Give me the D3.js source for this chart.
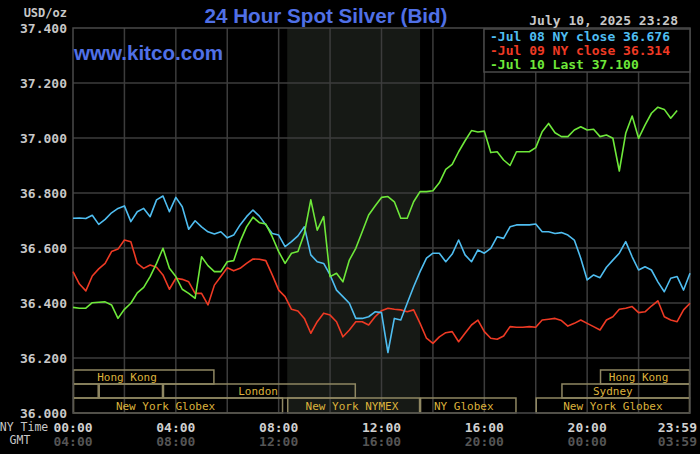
<!DOCTYPE html>
<html><head><meta charset="utf-8">
<script src="https://cdn.jsdelivr.net/npm/d3@7"></script>
<style>html,body{margin:0;padding:0;background:#000;} svg{display:block;}</style>
</head><body>
<svg id="c" width="700" height="454"></svg>
<script>
// ---- data ----
const hours = d3.range(0, 24.001, 0.25); // 15-minute sampling grid (NY time, hours)

const jul08 = [36.708,36.709,36.707,36.719,36.686,36.704,36.728,36.744,36.753,36.696,36.732,36.744,36.714,36.775,36.789,36.732,
36.784,36.750,36.668,36.699,36.677,36.659,36.651,36.659,36.637,36.647,36.684,36.714,36.738,36.716,36.684,36.653,
36.647,36.605,36.623,36.644,36.677,36.575,36.550,36.544,36.502,36.447,36.423,36.399,36.344,36.344,36.350,36.368,
36.365,36.220,36.344,36.338,36.399,36.459,36.514,36.563,36.581,36.581,36.550,36.578,36.629,36.575,36.550,36.593,
36.581,36.599,36.641,36.635,36.677,36.684,36.684,36.684,36.687,36.659,36.659,36.653,36.656,36.647,36.629,36.563,
36.484,36.502,36.492,36.530,36.556,36.581,36.623,36.568,36.520,36.532,36.520,36.477,36.441,36.490,36.496,36.447,36.508];

const jul09 = [36.514,36.469,36.444,36.498,36.524,36.544,36.587,36.596,36.629,36.623,36.544,36.526,36.538,36.530,36.502,36.450,
36.490,36.486,36.477,36.435,36.435,36.393,36.465,36.496,36.528,36.517,36.526,36.544,36.560,36.559,36.554,36.502,
36.447,36.423,36.377,36.371,36.344,36.290,36.332,36.363,36.356,36.332,36.277,36.302,36.332,36.332,36.320,36.350,
36.372,36.381,36.377,36.375,36.368,36.375,36.326,36.272,36.253,36.277,36.292,36.296,36.259,36.290,36.320,36.338,
36.296,36.272,36.268,36.280,36.314,36.312,36.312,36.314,36.312,36.338,36.341,36.344,36.336,36.316,36.326,36.338,
36.326,36.314,36.302,36.338,36.350,36.377,36.381,36.387,36.365,36.368,36.389,36.408,36.350,36.338,36.332,36.375,36.399];

const jul10 = [36.384,36.381,36.381,36.401,36.403,36.404,36.393,36.344,36.377,36.399,36.437,36.457,36.496,36.544,36.599,36.526,
36.496,36.450,36.435,36.417,36.568,36.536,36.514,36.514,36.550,36.554,36.623,36.677,36.712,36.692,36.687,36.641,
36.587,36.544,36.581,36.587,36.653,36.775,36.665,36.714,36.496,36.508,36.477,36.556,36.599,36.659,36.720,36.753,
36.784,36.787,36.768,36.708,36.708,36.768,36.805,36.805,36.808,36.837,36.886,36.904,36.950,36.990,37.027,37.022,
37.025,36.947,36.950,36.920,36.900,36.950,36.950,36.950,36.965,37.023,37.053,37.019,37.005,37.005,37.029,37.041,
37.029,37.032,37.005,37.011,36.999,36.880,37.017,37.080,36.999,37.047,37.090,37.112,37.104,37.072,37.100];

const yTicks = [36.0, 36.2, 36.4, 36.6, 36.8, 37.0, 37.2, 37.4];
const yTickLabels = ["36.000","36.200","36.400","36.600","36.800","37.000","37.200","37.400"];
const gridHours = [2,4,6,8,10,12,14,16,18,20,22];
const xTickHours = [0,4,8,12,16,20,24];
const nyLabels = ["00:00","04:00","08:00","12:00","16:00","20:00","23:59"];
const gmtLabels = ["04:00","08:00","12:00","16:00","20:00","00:00","03:59"];
const nymexHours = [8.333, 13.5];

const sessionRow = [0,0,1,1,1,1,2,2,2,2];
const sessionStart = [0,20.5,0,1,3.5,19,0,8.333,13.5,18];
const sessionEnd   = [5.5,24,1,3.5,11,24,8.17,13.5,17.25,24];
const sessionLabel = ["Hong Kong","Hong Kong","","","London","Sydney","New York Globex","New York NYMEX","NY Globex","New York Globex"];
const sessionLabelAt = [2.1,22.0,0,0,7.2,21.0,3.6,10.85,15.2,21.0];

const legendNames = ["Jul 08 NY close 36.676","Jul 09 NY close 36.314","Jul 10 Last 37.100"];
const legendColors = ["#4fbdf0","#ee3a24","#6ee83a"];
const seriesList = [jul08, jul09, jul10];

// ---- drawing ----
const svg = d3.select("#c");
const L = 73, R = 690, T = 28, B = 413;
const x = d3.scaleLinear().domain([0,24]).range([L,R]);
const y = d3.scaleLinear().domain([36,37.4]).range([B,T]);
const mono = "'DejaVu Sans Mono', 'Liberation Mono', monospace";

svg.append("rect").attr("width",700).attr("height",454).attr("fill","#000");

// NYMEX shaded period
svg.append("rect").attr("x",x(nymexHours[0])).attr("y",T)
  .attr("width",x(nymexHours[1])-x(nymexHours[0])).attr("height",B-T).attr("fill","#161915");

// grid
const gc = "#3c3c3c";
svg.append("g").selectAll("line").data(yTicks.slice(1,-1)).join("line")
  .attr("x1",L).attr("x2",R).attr("y1",d=>y(d)).attr("y2",d=>y(d))
  .attr("stroke",gc).attr("stroke-width",1.5);
svg.append("g").selectAll("line").data(gridHours).join("line")
  .attr("x1",d=>x(d)).attr("x2",d=>x(d)).attr("y1",T).attr("y2",B)
  .attr("stroke",gc).attr("stroke-width",1.5);

// session boxes
const rowTop = [370,384,398], rowBot = [384,398,413];
const sg = svg.append("g");
sessionRow.forEach((r,i)=>{
  sg.append("rect").attr("x",x(sessionStart[i])+0.5).attr("y",rowTop[r])
    .attr("width",x(sessionEnd[i])-x(sessionStart[i])-1).attr("height",rowBot[r]-rowTop[r])
    .attr("fill","none").attr("stroke","#8f8762").attr("stroke-width",1.5);
  if (sessionLabel[i]) {
    sg.append("text").attr("x",x(sessionLabelAt[i])).attr("y",(rowTop[r]+rowBot[r])/2+4)
      .attr("text-anchor","middle").attr("font-family",mono).attr("font-size",11)
      .attr("fill","#dcb23c").text(sessionLabel[i]);
  }
});

// frame
svg.append("rect").attr("x",L).attr("y",T).attr("width",R-L).attr("height",B-T)
  .attr("fill","none").attr("stroke","#4a4a4a").attr("stroke-width",1.5);

// lines
const line = d3.line().x((d,i)=>x(hours[i])).y(d=>y(d));
[1,0,2].forEach(k=>{
  svg.append("path").datum(seriesList[k]).attr("d",line)
    .attr("fill","none").attr("stroke",legendColors[k]).attr("stroke-width",1.6)
    .attr("stroke-linejoin","round");
});

// legend
const lg = svg.append("g");
lg.append("rect").attr("x",484).attr("y",T+1).attr("width",R-484).attr("height",43)
  .attr("fill","#000").attr("stroke","#4a4a4a").attr("stroke-width",1.5);
legendNames.forEach((n,i)=>{
  lg.append("text").attr("x",490).attr("y",T+13+i*14).attr("font-family",mono)
    .attr("font-size",13).attr("font-weight","bold").attr("fill",legendColors[i])
    .text("-"+n);
});

// y labels
svg.append("g").selectAll("text").data(yTicks).join("text")
  .attr("x",67).attr("y",d=>y(d)+5).attr("text-anchor","end")
  .attr("font-family",mono).attr("font-size",13).attr("font-weight","bold")
  .attr("fill","#c8c8c8").text((d,i)=>yTickLabels[i]);
svg.append("text").attr("x",67).attr("y",17).attr("text-anchor","end")
  .attr("font-family",mono).attr("font-size",12).attr("font-weight","bold")
  .attr("fill","#c8c8c8").text("USD/oz");

// x labels
xTickHours.forEach((h,i)=>{
  const last = i===xTickHours.length-1;
  const xx = last ? 697 : x(h);
  const anchor = last ? "end" : "middle";
  svg.append("text").attr("x",xx).attr("y",432).attr("text-anchor",anchor)
    .attr("font-family",mono).attr("font-size",13).attr("font-weight","bold")
    .attr("fill","#d0d0d0").text(nyLabels[i]);
  svg.append("text").attr("x",xx).attr("y",446).attr("text-anchor",anchor)
    .attr("font-family",mono).attr("font-size",13).attr("font-weight","bold")
    .attr("fill","#555").text(gmtLabels[i]);
});
svg.append("text").attr("x",24).attr("y",431).attr("text-anchor","middle")
  .attr("font-family",mono).attr("font-size",11.5).attr("fill","#c8c8c8").text("NY Time");
svg.append("text").attr("x",20).attr("y",444).attr("text-anchor","middle")
  .attr("font-family",mono).attr("font-size",11.5).attr("fill","#c8c8c8").text("GMT");

// title & texts
svg.append("text").attr("x",326).attr("y",23).attr("text-anchor","middle")
  .attr("font-family","'Liberation Sans', Arial, sans-serif").attr("font-size",21)
  .attr("font-weight","bold").attr("fill","#5070e6")
  .attr("textLength",243).attr("lengthAdjust","spacingAndGlyphs")
  .text("24 Hour Spot Silver (Bid)");
svg.append("text").attr("x",74).attr("y",60)
  .attr("font-family","'Liberation Sans', Arial, sans-serif").attr("font-size",20)
  .attr("font-weight","bold").attr("fill","#5070e6")
  .attr("textLength",149).attr("lengthAdjust","spacingAndGlyphs")
  .text("www.kitco.com");
svg.append("text").attr("x",678).attr("y",25).attr("text-anchor","end")
  .attr("font-family",mono).attr("font-size",13).attr("font-weight","bold")
  .attr("fill","#c8c8c8").text("July 10, 2025 23:28");
</script>
</body></html>
